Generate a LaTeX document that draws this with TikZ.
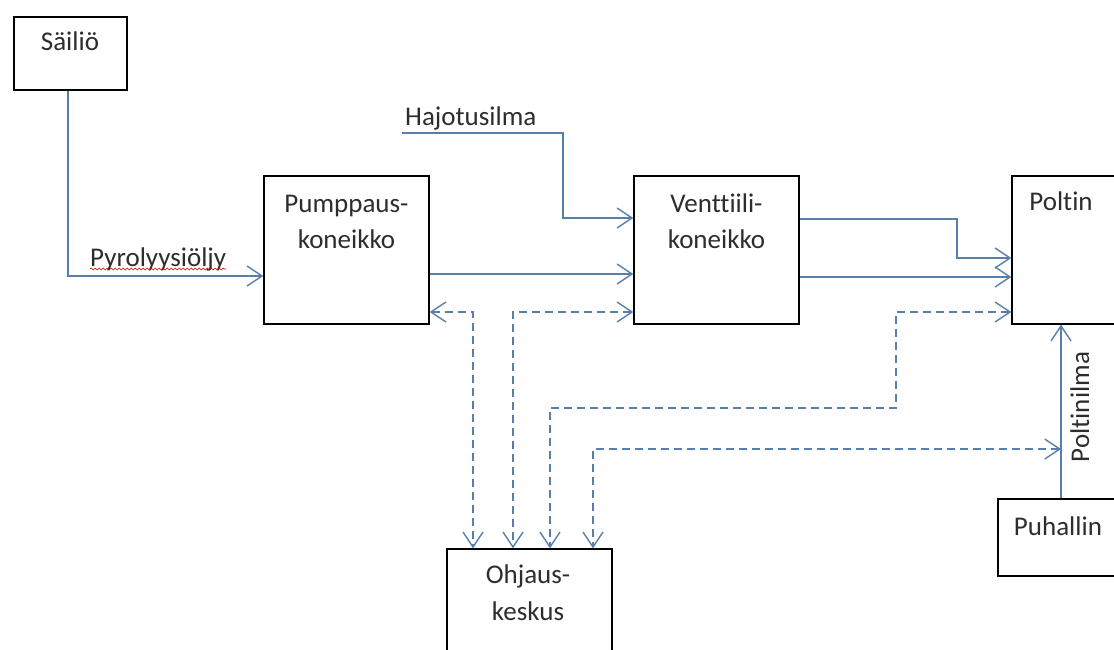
\documentclass[tikz,border=0pt]{standalone}
\usepackage{fontspec}
\setmainfont[Ligatures=NoCommon]{Carlito}
\usetikzlibrary{arrows.meta,decorations.pathmorphing}
\definecolor{flow}{RGB}{88,126,172}
\definecolor{txtc}{RGB}{45,45,45}
\begin{document}
\begin{tikzpicture}[x=1pt,y=-1pt,
  box/.style={draw=black,line width=1.3pt,fill=white,inner sep=0pt},
  lbl/.style={text=txtc,font=\fontsize{27}{35}\selectfont,inner sep=0pt,anchor=base},
  flowline/.style={draw=flow,line width=1.4pt},
  tip/.style={-{Straight Barb[length=15pt,width=20pt,line width=1.4pt]}},
  dtips/.style={{Straight Barb[length=15pt,width=20pt,line width=1.4pt]}-{Straight Barb[length=15pt,width=20pt,line width=1.4pt]}},
  ctl/.style={draw=flow,line width=1.4pt,dash pattern=on 8pt off 5pt}]
\useasboundingbox (0,0) rectangle (1114,649);
\fill[white] (0,0) rectangle (1114,649);
\clip (0,0) rectangle (1114,649);

% boxes
\node[box,minimum width=113pt,minimum height=73pt] (sai) at (70.5,53.5) {};
\node[box,minimum width=165pt,minimum height=148pt] (pump) at (346.5,250) {};
\node[box,minimum width=165pt,minimum height=148pt] (vent) at (716.5,250) {};
\node[box,minimum width=168pt,minimum height=148pt] (polt) at (1096,250) {};
\node[box,minimum width=165pt,minimum height=148pt] (ohj) at (529.5,623) {};
\node[box,minimum width=168pt,minimum height=77pt] (puh) at (1082,537.5) {};

% texts
\node[lbl] (tsai) at (70,50) {Säiliö};
\node[lbl] (tpump1) at (346.5,212) {Pumppaus-};
\node[lbl] (tpump2) at (346.5,248) {koneikko};
\node[lbl] (tvent1) at (716.5,212) {Venttiili-};
\node[lbl] (tvent2) at (716.5,248) {koneikko};
\node[lbl] (tpolt) at (1061,210) {Poltin};
\node[lbl] (tohj1) at (528,583) {Ohjaus-};
\node[lbl] (tohj2) at (528,620) {keskus};
\node[lbl] (tpuh) at (1058,535) {Puhallin};
\node[lbl,anchor=base west] (thaj) at (405,125) {Hajotusilma};
\node[lbl,anchor=base west] (tpyr) at (90,266) {Pyrolyysiöljy};
\node[lbl,rotate=90] (tpi) at (1089,407) {Poltinilma};
\draw[red!85!black,line width=0.6pt,decorate,decoration={snake,amplitude=0.9pt,segment length=4pt}]
  ([yshift=-3pt]tpyr.base west) -- ([yshift=-3pt]tpyr.base east);

% helper coordinates
\coordinate (hstart) at (402,133);
\coordinate (y218) at (0,218);
\coordinate (y219) at (0,219);
\coordinate (y258) at (0,258);
\coordinate (y274) at (0,274);
\coordinate (y276) at (0,276);
\coordinate (y277) at (0,277);
\coordinate (y312) at (0,312);
\coordinate (x68) at (68,0);
\coordinate (x473) at (473,0);
\coordinate (x513) at (513,0);
\coordinate (x550) at (550,0);
\coordinate (x593) at (593,0);
\coordinate (x1061) at (1061,0);
\coordinate (dline) at (1061,449);

% solid flows
\draw[flowline,tip] (sai.south -| x68) -- (x68 |- y276) -- (pump.west |- y276);
\draw[flowline,tip] (hstart) -- (563,133) -- (563,218) -- (vent.west |- y218);
\draw[flowline,tip] (pump.east |- y274) -- (vent.west |- y274);
\draw[flowline,tip] (vent.east |- y219) -- (957,219) -- (957,258) -- (polt.west |- y258);
\draw[flowline,tip] (vent.east |- y277) -- (polt.west |- y277);
\draw[flowline,tip] (puh.north -| x1061) -- (polt.south -| x1061);

% control (dashed)
\draw[ctl,dtips] (pump.east |- y312) -- (473,312) -- (ohj.north -| x473);
\draw[ctl,dtips] (vent.west |- y312) -- (513,312) -- (ohj.north -| x513);
\draw[ctl,dtips] (polt.west |- y312) -- (896,312) -- (896,408) -- (550,408) -- (ohj.north -| x550);
\draw[ctl,dtips] (dline) -- (593,449) -- (ohj.north -| x593);
\end{tikzpicture}
\end{document}
